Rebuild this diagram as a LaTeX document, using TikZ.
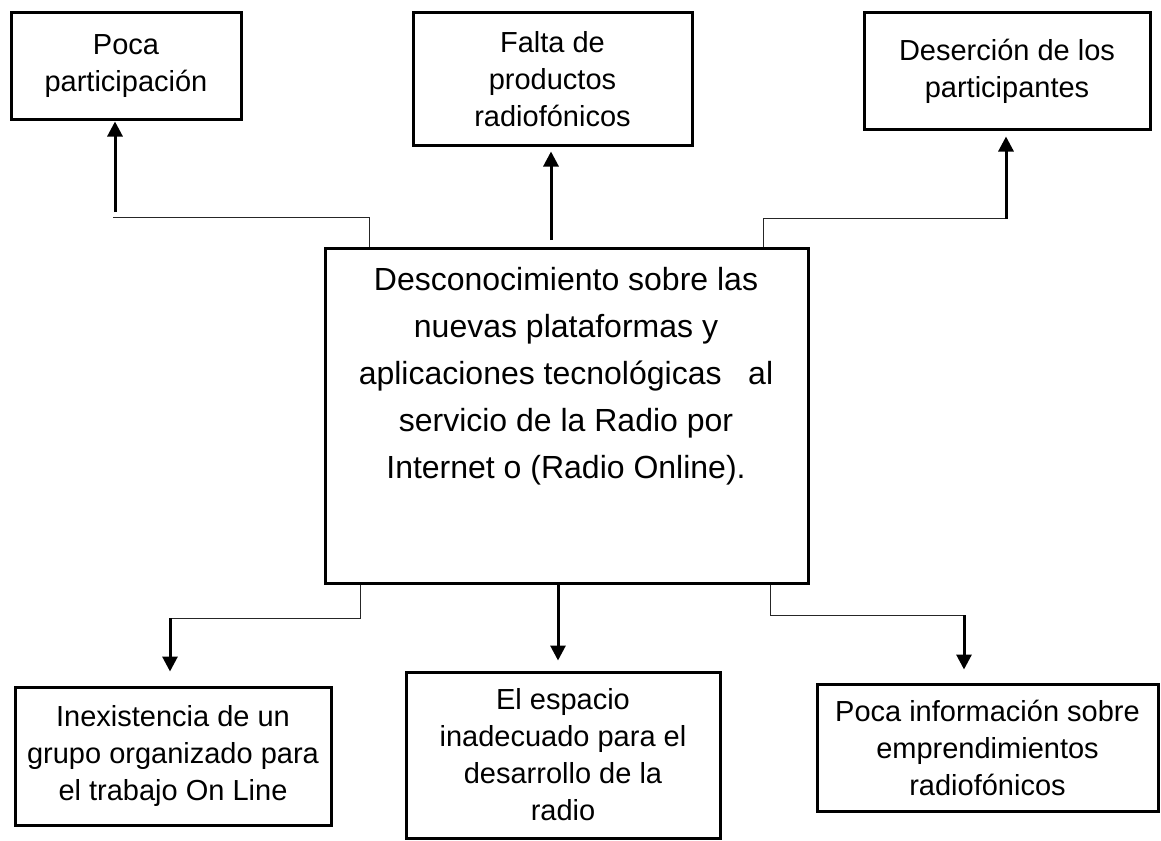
\documentclass[tikz,border=0pt]{standalone}
\usepackage{fontspec}
\setmainfont{Liberation Sans}
\usetikzlibrary{arrows.meta}

\begin{document}
\begin{tikzpicture}
  [x=0.5pt,y=-0.5pt,
   box/.style={draw,line width=1.5pt,align=center,inner sep=0pt,
     font=\fontsize{14.5pt}{18.5pt}\selectfont},
   arr/.style={line width=1.5pt,-{Triangle[length=7.5pt,width=7.5pt]}},
   thinline/.style={line width=0.5pt,black!85}]
  \useasboundingbox (0,0) rectangle (1161,840);

  % effects
  \node[box,minimum width=115pt,minimum height=53.5pt] (poca) at (126,66.5) {Poca\\participación};
  \node[box,minimum width=139.5pt,minimum height=66pt] (falta) at (552.5,79) {Falta de\\productos\\radiofónicos};
  \node[box,minimum width=143pt,minimum height=58.5pt] (desercion) at (1007,71.5) {Deserción de los\\participantes};

  % problem
  \node[box,minimum width=241.5pt,minimum height=167.5pt] (c) at (566.5,415.5) {};
  \node[anchor=north,inner sep=0pt,align=center,
    font=\fontsize{16pt}{23.5pt}\selectfont] (ctext) at (566,267)
    {Desconocimiento sobre las\\nuevas plataformas y\\aplicaciones tecnológicas\ \ \ al\\servicio de la Radio por\\Internet o (Radio Online).};

  % causes
  \node[box,minimum width=158pt,minimum height=69pt] (inex) at (173,756) {Inexistencia de un\\grupo organizado para\\el trabajo On Line};
  \node[box,minimum width=157pt,minimum height=83pt] (espacio) at (563,755) {El espacio\\inadecuado para el\\desarrollo de la\\radio};
  \node[box,minimum width=170.5pt,minimum height=63.5pt] (info) at (987.5,747.5) {Poca información sobre\\emprendimientos\\radiofónicos};

  % joints
  \coordinate (t1) at (369,217);
  \coordinate (t2) at (113,217);
  \coordinate (a1) at (115,212);
  \coordinate (a2) at (551,240);
  \coordinate (t3) at (763,218);
  \coordinate (t4) at (1006,218);
  \coordinate (a3) at (1006,219);
  \coordinate (b1) at (360,618);
  \coordinate (b2) at (170,618);
  \coordinate (a5) at (558,583);
  \coordinate (b3) at (770,615);
  \coordinate (b4) at (964,615);

  \draw[thinline] (c.north -| t1) -- (t1) -- (t2);
  \draw[thinline] (c.north -| t3) -- (t3) -- (t4);
  \draw[thinline] (c.south -| b1) -- (b1) -- (b2);
  \draw[thinline] (c.south -| b3) -- (b3) -- (b4);

  \draw[arr] (a1) -- (poca.south -| a1);
  \draw[arr,shorten >=2.5pt] (a2) -- (falta.south -| a2);
  \draw[arr,shorten >=2.5pt] (a3) -- (desercion.south -| a3);
  \draw[arr,shorten >=7pt] (b2) -- (inex.north -| b2);
  \draw[arr,shorten >=5pt] (c.south -| a5) -- (espacio.north -| a5);
  \draw[arr,shorten >=6.5pt] (b4) -- (info.north -| b4);

\end{tikzpicture}
\end{document}
